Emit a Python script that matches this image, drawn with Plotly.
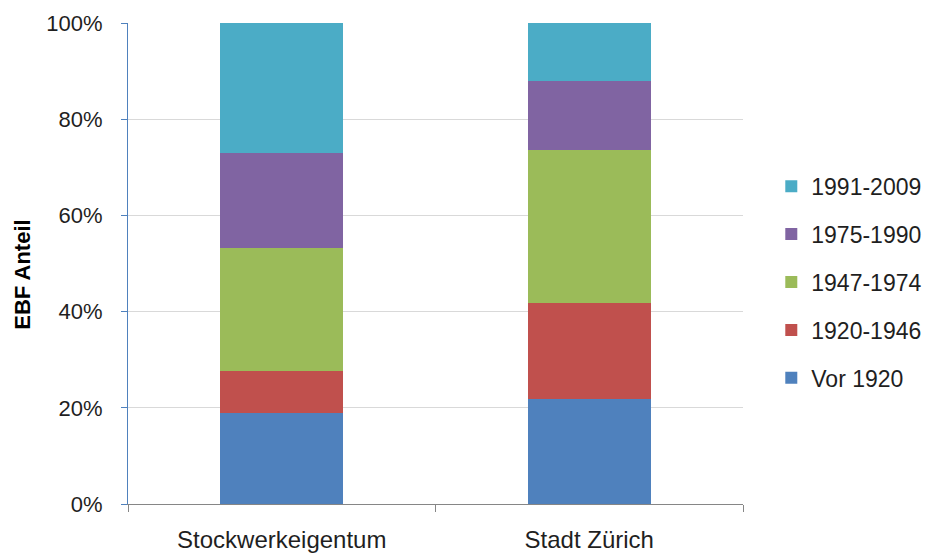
import plotly.graph_objects as go

# Share of energy reference area (EBF) by construction period
categories = ["Stockwerkeigentum", "Stadt Zürich"]
periods = ["Vor 1920", "1920-1946", "1947-1974", "1975-1990", "1991-2009"]
shares = {
    "Vor 1920":  [19.0, 21.9],
    "1920-1946": [8.7, 19.9],
    "1947-1974": [25.6, 31.9],
    "1975-1990": [19.6, 14.2],
    "1991-2009": [27.1, 12.1],
}
colors = {
    "Vor 1920": "#4F81BD",
    "1920-1946": "#C0504D",
    "1947-1974": "#9BBB59",
    "1975-1990": "#8064A2",
    "1991-2009": "#4BACC6",
}
y_ticks = [0, 20, 40, 60, 80, 100]
y_tick_text = [f"{v}%" for v in y_ticks]

FONT = "Liberation Sans"
TEXT_COLOR = "#1F1F1F"

fig = go.Figure()
for i, p in enumerate(periods):
    fig.add_trace(go.Bar(
        name=p,
        x=categories,
        y=shares[p],
        marker=dict(color=colors[p], line=dict(width=0)),
        legendgroup=p,
        legendrank=len(periods) - i,  # newest period listed first
        hoverinfo="skip",
    ))

fig.update_layout(
    barmode="stack",
    bargap=0.6,
    width=927,
    height=555,
    margin=dict(l=128, r=184, t=23, b=51, autoexpand=False),
    paper_bgcolor="white",
    plot_bgcolor="white",
    font=dict(family=FONT, size=22, color=TEXT_COLOR),
    showlegend=True,
    legend=dict(
        traceorder="grouped",
        tracegroupgap=15,
        x=1.046, xanchor="left",
        y=0.461, yanchor="middle",
        font=dict(family=FONT, size=23, color=TEXT_COLOR),
        itemwidth=30,
        borderwidth=0,
    ),
    xaxis=dict(
        type="category",
        tickson="boundaries",
        ticks="outside",
        ticklen=7,
        tickcolor="#868686",
        showline=True,
        linecolor="#868686",
        linewidth=1,
        showgrid=False,
        automargin=False,
        ticklabelstandoff=14,
        tickfont=dict(family=FONT, size=24, color=TEXT_COLOR),
    ),
    yaxis=dict(
        range=[0, 100],
        tickmode="array",
        tickvals=y_ticks,
        ticktext=y_tick_text,
        ticks="outside",
        ticklen=6,
        tickcolor="#4F81BD",
        showline=True,
        linecolor="#4F81BD",
        linewidth=1,
        showgrid=True,
        gridcolor="#D9D9D9",
        gridwidth=1,
        zeroline=False,
        automargin=False,
        ticklabelstandoff=14,
        tickfont=dict(family=FONT, size=22, color=TEXT_COLOR),
    ),
    annotations=[dict(
        text="<b>EBF Anteil</b>",
        xref="paper", yref="paper",
        x=-0.172, y=0.477,
        xanchor="center", yanchor="middle",
        textangle=-90,
        showarrow=False,
        font=dict(family=FONT, size=22, color="#000000"),
    )],
)

fig.write_html("out.html")
